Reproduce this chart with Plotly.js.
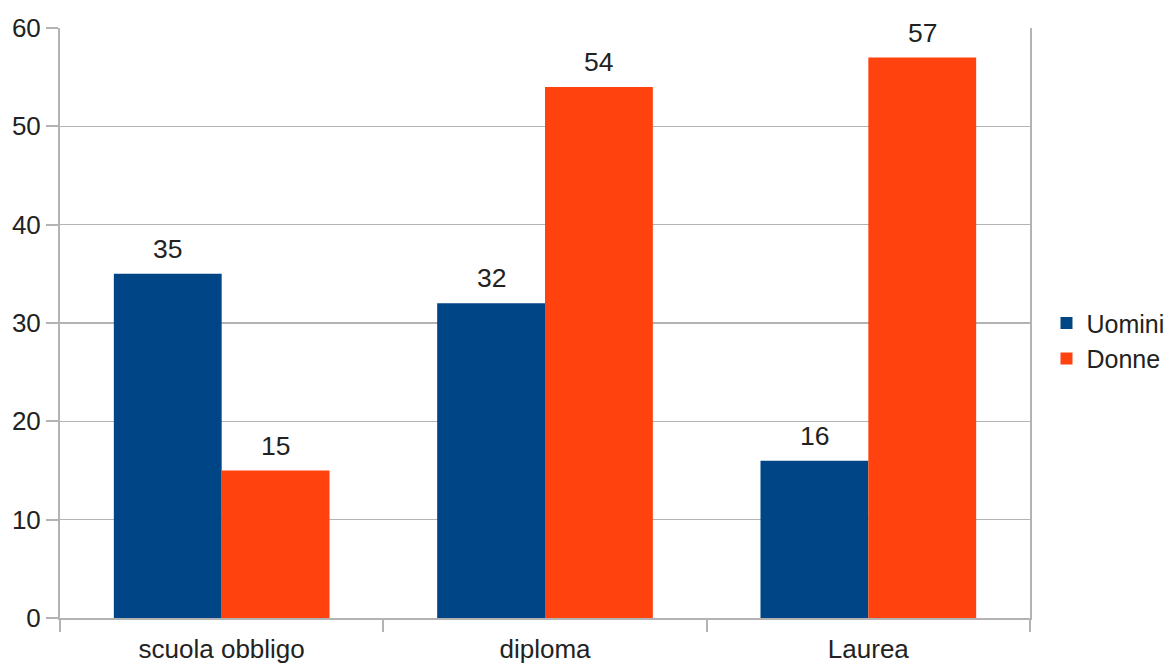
<!DOCTYPE html>
<html>
<head>
<meta charset="utf-8">
<script src="https://cdn.plot.ly/plotly-3.0.1.min.js"></script>
<style>html,body{margin:0;padding:0;background:#fff;}#chart{width:1171px;height:667px;}</style>
</head>
<body>
<div id="chart"></div>
<script>
const categories = ["scuola obbligo", "diploma", "Laurea"];
const uomini = [35, 32, 16];
const donne = [15, 54, 57];
const seriesNames = ["Uomini", "Donne"];
const colors = ["#004586", "#ff420e"];

const FONT = "Liberation Sans, Arial, sans-serif";
const traces = [
  {type: "bar", name: seriesNames[0], x: categories, y: uomini, marker: {color: colors[0]}},
  {type: "bar", name: seriesNames[1], x: categories, y: donne, marker: {color: colors[1]}}
];

const annotations = [];
[uomini, donne].forEach((vals, s) => {
  vals.forEach((v, i) => {
    annotations.push({
      x: i + (s === 0 ? -1/6 : 1/6), y: v, xref: "x", yref: "y",
      text: String(v), showarrow: false, yanchor: "middle", yshift: 25,
      font: {family: FONT, size: 26.5, color: "#222"}
    });
  });
});

const layout = {
  width: 1171, height: 667,
  margin: {l: 60, r: 141, t: 28, b: 49, autoexpand: false},
  paper_bgcolor: "#fff", plot_bgcolor: "#fff",
  barmode: "group", bargap: 0.333, bargroupgap: 0,
  font: {family: FONT, size: 25, color: "#222"},
  xaxis: {
    type: "category", range: [-0.5, 2.5], tickson: "boundaries",
    ticks: "outside", ticklen: 12, tickcolor: "#b3b3b3", tickwidth: 2,
    showgrid: false, showline: true, linecolor: "#b3b3b3", linewidth: 2,
    ticklabelstandoff: 7,
    tickfont: {family: FONT, size: 26, color: "#222"}, zeroline: false
  },
  yaxis: {
    range: [0, 60], dtick: 10, ticks: "outside", ticklen: 12, tickcolor: "#b3b3b3", tickwidth: 2,
    showgrid: true, gridcolor: "#b3b3b3", gridwidth: 1.5,
    showline: true, linecolor: "#b3b3b3", linewidth: 2, mirror: true,
    zeroline: false, tickfont: {family: FONT, size: 26, color: "#222"}
  },
  legend: {x: 1.017, xanchor: "left", y: 0.47, yanchor: "middle",
    font: {family: FONT, size: 25, color: "#222"}, tracegroupgap: 0, itemwidth: 30},
  annotations: annotations,
  showlegend: true
};

Plotly.newPlot("chart", traces, layout, {displayModeBar: false, staticPlot: true});
</script>
</body>
</html>
